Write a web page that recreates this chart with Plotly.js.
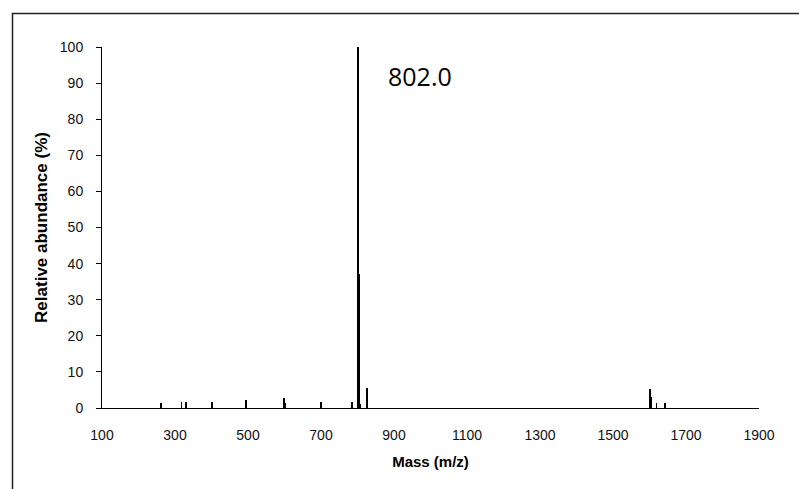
<!DOCTYPE html>
<html>
<head>
<meta charset="utf-8">
<script src="https://cdn.plot.ly/plotly-3.0.1.min.js"></script>
<style>
  html, body { margin: 0; padding: 0; background: #fff; }
  #chart { width: 799px; height: 489px; }
</style>
</head>
<body>
<div id="chart"></div>
<script>
// m/z values of the peaks
const massValues = [261, 318, 331, 402, 495, 599, 601, 700, 786, 802, 804, 808, 825, 1602, 1604, 1619, 1642];
// relative abundance (%) of each peak
const abundanceValues = [1.3, 1.6, 1.6, 1.6, 2.3, 2.9, 1.5, 1.6, 1.7, 100, 37, 1.2, 5.5, 5.3, 3.0, 1.4, 1.4];
const xTicks = [100, 300, 500, 700, 900, 1100, 1300, 1500, 1700, 1900];
const yTicks = [0, 10, 20, 30, 40, 50, 60, 70, 80, 90, 100];
const peakLabel = "802.0";
const peakLabelMass = 802;
const peakLabelY = 92;

const W = 799, H = 489;
const margin = { l: 102, r: 40, t: 47, b: 81, pad: 0 };
const pw = W - margin.l - margin.r;
const ph = H - margin.t - margin.b;
// frame box (pixels) converted to paper coordinates
const fx0 = (12.5 - margin.l) / pw, fx1 = (W + 20 - margin.l) / pw;
const fyTop = (H - margin.b - 13.5) / ph, fyBot = (H - margin.b - (H + 20)) / ph;

const tickFont = { family: "'Liberation Sans Narrow', 'Liberation Sans', Arial, sans-serif", size: 14, color: '#111' };

const trace = {
  type: 'bar',
  x: massValues,
  y: abundanceValues,
  width: massValues.map(() => 5),
  marker: { color: '#000', line: { width: 0 } },
  hoverinfo: 'x+y'
};

const layout = {
  width: W, height: H,
  margin: margin,
  paper_bgcolor: '#fff',
  plot_bgcolor: '#fff',
  showlegend: false,
  bargap: 0,
  xaxis: {
    range: [100, 1900],
    tickvals: xTicks,
    ticktext: xTicks.map(String),
    ticks: 'outside', ticklen: 14, tickcolor: 'rgba(0,0,0,0)',
    showgrid: false, zeroline: false,
    showline: true, linecolor: '#000', linewidth: 1,
    tickfont: tickFont,
    title: { text: 'Mass (m/z)', font: { family: "'Liberation Sans', Arial, sans-serif", size: 15, color: '#000', weight: 'bold' }, standoff: 14 },
    fixedrange: true
  },
  yaxis: {
    range: [0, 100],
    tickvals: yTicks,
    ticktext: yTicks.map(String),
    ticks: 'outside', ticklen: 5, tickcolor: '#000', tickwidth: 1,
    ticklabelstandoff: 10,
    showgrid: false, zeroline: false,
    showline: true, linecolor: '#000', linewidth: 1,
    tickfont: tickFont,
    title: { text: 'Relative abundance (%)', font: { family: "'Liberation Sans', Arial, sans-serif", size: 17, color: '#000', weight: 'bold' }, standoff: 7 },
    fixedrange: true
  },
  annotations: [{
    xref: 'x', yref: 'y',
    x: peakLabelMass, y: peakLabelY,
    text: peakLabel,
    showarrow: false,
    xanchor: 'left', yanchor: 'middle',
    xshift: 28,
    font: { family: "'Open Sans', 'Liberation Sans', sans-serif", size: 25, color: '#000' }
  }],
  shapes: [{
    type: 'rect', xref: 'paper', yref: 'paper',
    x0: fx0, x1: fx1, y0: fyBot, y1: fyTop,
    line: { color: '#222', width: 1.5 },
    fillcolor: 'rgba(0,0,0,0)',
    layer: 'above'
  }]
};

Plotly.newPlot('chart', [trace], layout, { displayModeBar: false, staticPlot: true });
</script>
</body>
</html>
